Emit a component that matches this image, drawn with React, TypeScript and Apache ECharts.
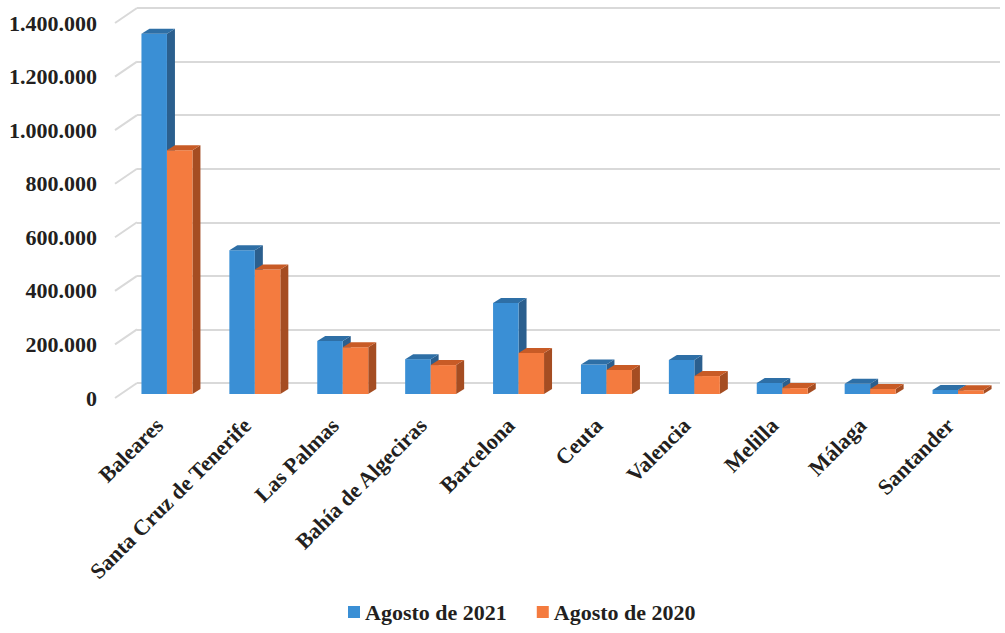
import React, { useEffect, useRef } from "react";
import * as echarts from "echarts";

const categories = [
  "Baleares",
  "Santa Cruz de Tenerife",
  "Las Palmas",
  "Bahía de Algeciras",
  "Barcelona",
  "Ceuta",
  "Valencia",
  "Melilla",
  "Málaga",
  "Santander",
];
const agosto2021 = [1345000, 537000, 198000, 130000, 340000, 110000, 127000, 41000, 38000, 15000];
const agosto2020 = [910000, 465000, 175000, 108000, 153000, 90000, 67000, 22000, 19000, 14000];
const yTicks = [0, 200000, 400000, 600000, 800000, 1000000, 1200000, 1400000];

const FONT = "'Liberation Serif', 'Times New Roman', serif";
const TEXT = "#231f20";
const DX = 8;
const DY = -5;

function bar3d(side: "left" | "right", front: string, top: string, sideCol: string) {
  return (params: any, api: any) => {
    const idx = api.value(0);
    const val = api.value(1);
    const p = api.coord([idx, val]);
    const base = api.coord([idx, 0]);
    const band = api.size([1, 0])[0];
    const w = band * 0.29;
    const x0 = side === "left" ? p[0] - w : p[0];
    const x1 = x0 + w;
    const yT = p[1];
    const yB = base[1];
    return {
      type: "group",
      children: [
        {
          type: "polygon",
          shape: { points: [[x1, yT], [x1 + DX, yT + DY], [x1 + DX, yB + DY], [x1, yB]] },
          style: { fill: sideCol },
        },
        {
          type: "rect",
          shape: { x: x0, y: yT, width: w, height: yB - yT },
          style: { fill: front },
        },
        {
          type: "polygon",
          shape: { points: [[x0, yT], [x0 + DX, yT + DY], [x1 + DX, yT + DY], [x1, yT]] },
          style: { fill: top },
        },
      ],
    };
  };
}

export default function App() {
  const ref = useRef<HTMLDivElement>(null);
  useEffect(() => {
    if (!ref.current) return;
    const chart = echarts.init(ref.current, null, { renderer: "svg" });
    const option: any = {
      animation: false,
      backgroundColor: "#ffffff",
      legend: {
        bottom: 5,
        left: 343,
        icon: "rect",
        itemWidth: 12,
        itemHeight: 12,
        itemGap: 30,
        textStyle: { fontFamily: FONT, fontWeight: "bold", fontSize: 22, color: TEXT },
        data: ["Agosto de 2021", "Agosto de 2020"],
      },
      grid: [
        { left: 123, right: 3, top: 19, bottom: 239 },
        { left: 115, right: 3, top: 23, bottom: 235 },
        { left: 137, right: 5, top: 8, bottom: 250 },
      ],
      xAxis: [
        {
          gridIndex: 0,
          type: "category",
          data: categories,
          axisLine: { show: false },
          axisTick: { show: false },
          axisLabel: {
            rotate: 45,
            margin: 20,
            padding: [0, 11, 0, 0],
            interval: 0,
            fontFamily: FONT,
            fontWeight: "bold",
            fontSize: 22,
            color: TEXT,
          },
        },
        { gridIndex: 1, type: "category", data: categories, show: false },
        { gridIndex: 2, type: "category", data: categories, show: false },
      ],
      yAxis: [
        { gridIndex: 0, type: "value", min: 0, max: 1400000, interval: 200000, show: false },
        {
          gridIndex: 1,
          type: "value",
          min: 0,
          max: 1400000,
          interval: 200000,
          axisLine: { show: false },
          axisTick: { show: false },
          splitLine: { show: false },
          axisLabel: {
            margin: 18,
            fontFamily: FONT,
            fontWeight: "bold",
            fontSize: 22,
            color: TEXT,
            formatter: (v: number) => v.toLocaleString("de-DE"),
          },
        },
        {
          gridIndex: 2,
          type: "value",
          min: 0,
          max: 1400000,
          interval: 200000,
          axisLine: { show: false },
          axisTick: { show: false },
          axisLabel: { show: false },
          splitLine: { show: true, lineStyle: { color: "#d9d9d9", width: 2 } },
        },
      ],
      series: [
        {
          name: "walls",
          type: "custom",
          xAxisIndex: 1,
          yAxisIndex: 1,
          silent: true,
          data: yTicks.map((v) => [0, v]),
          renderItem: (params: any, api: any) => {
            const p = api.coord([0, api.value(1)]);
            const left = params.coordSys.x;
            return {
              type: "line",
              shape: { x1: left, y1: p[1], x2: left + 22, y2: p[1] - 15 },
              style: { stroke: "#d9d9d9", lineWidth: 2 },
            };
          },
        },
        {
          name: "Agosto de 2021",
          type: "custom",
          xAxisIndex: 0,
          yAxisIndex: 0,
          itemStyle: { color: "#3a8fd5" },
          data: agosto2021.map((v, i) => [i, v]),
          renderItem: bar3d("left", "#3a8fd5", "#2e6fa6", "#2b5f8e"),
        },
        {
          name: "Agosto de 2020",
          type: "custom",
          xAxisIndex: 0,
          yAxisIndex: 0,
          itemStyle: { color: "#f47b3f" },
          data: agosto2020.map((v, i) => [i, v]),
          renderItem: bar3d("right", "#f47b3f", "#c85b26", "#a54d22"),
        },
      ],
    };
    chart.setOption(option);
    return () => chart.dispose();
  }, []);
  return (
    <div
      ref={ref}
      style={{ position: "absolute", left: 0, top: 0, width: 1005, height: 633 }}
    />
  );
}
